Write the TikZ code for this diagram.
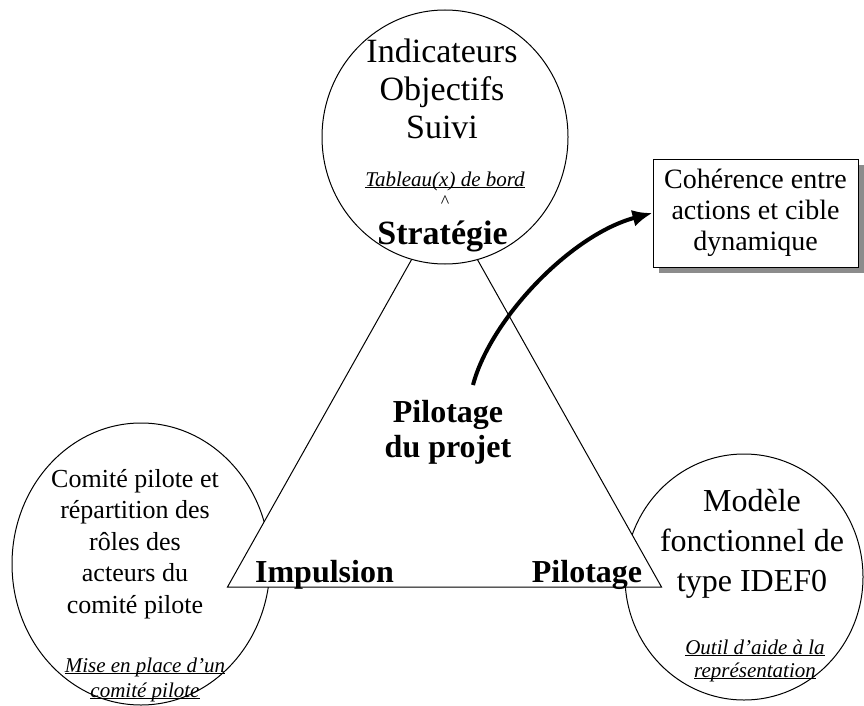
\documentclass[tikz,border=0pt]{standalone}
\usepackage{fontspec}
\setmainfont{Liberation Serif}
\usepackage{tikz}
\usetikzlibrary{arrows.meta,shapes.geometric,shadows}

\newcommand{\uln}[1]{\underline{\smash{#1}}}

\begin{document}
\begin{tikzpicture}[x=1pt,y=-1pt]
    \tikzset{bubble/.style = {ellipse, draw=black, line width=1pt, fill=white, inner sep=0pt}}
    \tikzset{bodytext/.style = {align=center, inner sep=0pt}}
    \tikzset{tagtext/.style = {align=center, inner sep=0pt, anchor=north}}
    \tikzset{corner/.style = {inner sep=0pt, anchor=base, font=\fontsize{32}{35}\selectfont\bfseries}}
    \tikzset{bigarrow/.style = {-{Latex[length=20pt,width=17pt]}, line width=4pt}}
    \useasboundingbox (0,0) rectangle (864,706);
    % lower circles, then the triangle over them
    \node[bubble, minimum width=258pt, minimum height=282pt] (impuls) at (141,564) {};
    \node[bubble, minimum width=238pt, minimum height=246pt] (pilot) at (744,577) {};
    \coordinate (apex) at (444.5,201);
    \coordinate (lcorner) at (227.5,587);
    \coordinate (rcorner) at (661.5,587);
    \filldraw[fill=white, line width=1pt] (apex) -- (lcorner) -- (rcorner) -- cycle;
    \node[bubble, minimum width=246pt, minimum height=254pt] (strat) at (445,137) {};
    % texts
    \node[bodytext, font=\fontsize{34}{38}\selectfont] (strattxt) at (442,88.5) {Indicateurs\\Objectifs\\Suivi};
    \node[tagtext, font=\fontsize{21}{24}\selectfont\itshape] (strattag) at (445,186) {\uln{Tableau(x) de bord}};
    \node[inner sep=0pt, anchor=base, font=\fontsize{18}{20}\selectfont] (caret) at (445,207) {\textasciicircum};
    \node[corner, font=\fontsize{34}{38}\selectfont\bfseries] (strathead) at (442.5,244) {Stratégie};
    \node[bodytext, font=\fontsize{32}{35}\selectfont\bfseries] (projet) at (448,432.5) {Pilotage\\du projet};
    \node[corner] (impulshead) at (324.5,582) {Impulsion};
    \node[corner] (pilothead) at (587,582) {Pilotage};
    \node[bodytext, font=\fontsize{26}{31.5}\selectfont] (impulstxt) at (135,544) {Comité pilote et\\répartition des\\rôles des\\acteurs du\\comité pilote};
    \node[tagtext, font=\fontsize{21}{25}\selectfont\itshape] (impulstag) at (145,672) {\uln{Mise en place d'un}\\\uln{comité pilote}};
    \node[bodytext, font=\fontsize{32}{40}\selectfont] (pilottxt) at (752,544) {Modèle\\fonctionnel de\\type IDEF0};
    \node[tagtext, font=\fontsize{21}{23}\selectfont\itshape] (pilottag) at (755,654) {\uln{Outil d'aide à la}\\\uln{représentation}};
    \node[draw, line width=1pt, fill=white, minimum width=205pt, minimum height=108pt, align=center,
          font=\fontsize{28}{31}\selectfont,
          drop shadow={shadow xshift=6pt, shadow yshift=-6pt, fill=black!45, opacity=1}] (coher) at (755.5,213) {Cohérence entre\\actions et cible\\dynamique};
    \coordinate (tail) at (473,385);
    \draw[bigarrow] (tail) .. controls (490,320) and (570,235) .. (coher.west);
\end{tikzpicture}
\end{document}
